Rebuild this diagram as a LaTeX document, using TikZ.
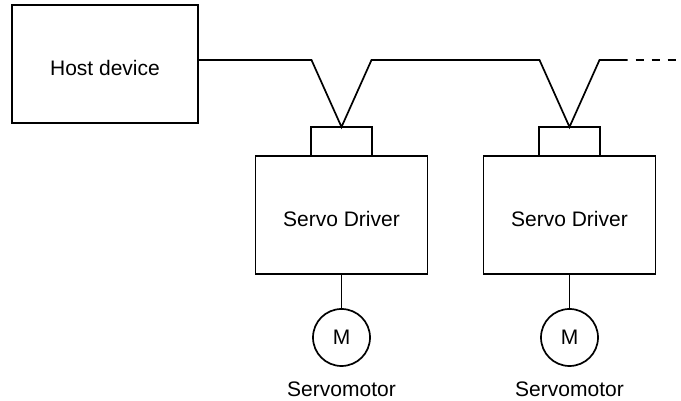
\documentclass[tikz,border=0pt]{standalone}
\usepackage{fontspec}
\setmainfont{Liberation Sans}
\usetikzlibrary{positioning}
\usetikzlibrary{calc}

\tikzset{
    unit/.style={draw, line width=1.7pt, outer sep=0pt, minimum width=172pt, minimum height=118pt, text height=24pt, text depth=0pt, font=\fontsize{21}{25}\selectfont},
    port/.style={draw, line width=1.7pt, outer sep=0pt, inner sep=0pt, minimum width=61pt, minimum height=29pt},
    motor/.style={draw, circle, line width=1.7pt, outer sep=0pt, inner sep=0pt, minimum size=57pt, font=\fontsize{21}{25}\selectfont},
    caption/.style={inner sep=0pt, font=\fontsize{21}{25}\selectfont},
    wire/.style={line width=1.7pt}
}

\begin{document}
\begin{tikzpicture}[x=1pt, y=1pt]
    \useasboundingbox (0,0) rectangle (681,401);

    \node [unit, minimum width=186pt] (host) at (105,337) {Host device};

    \node [port] (p1) at (341.5,259.5) {};
    \node [unit, below=0pt of p1] (d1) {Servo Driver};
    \node [motor, below=35pt of d1] (m1) {M};
    \node [caption, below=16pt of m1] (s1) {Servomotor};

    \node [port, right=167pt of p1] (p2) {};
    \node [unit, below=0pt of p2] (d2) {Servo Driver};
    \node [motor, below=35pt of d2] (m2) {M};
    \node [caption, below=16pt of m2] (s2) {Servomotor};

    \coordinate [above left=67pt and 30pt of p1.north] (v1l);
    \coordinate [above right=67pt and 30pt of p1.north] (v1r);
    \coordinate [above left=67pt and 30pt of p2.north] (v2l);
    \coordinate [above right=67pt and 30pt of p2.north] (v2r);
    \coordinate [right=28pt of v2r] (busend);
    \coordinate [right=48pt of busend] (dashend);

    \draw [wire] (host.east |- v1l) -- (v1l) -- (p1.north) -- (v1r) -- (v2l) -- (p2.north) -- (v2r) -- (busend);
    \draw [wire, dash pattern=on 8pt off 8pt, dash phase=8pt] (busend) -- (dashend);

    \draw [wire] (d1.south) -- (m1.north);
    \draw [wire] (d2.south) -- (m2.north);
\end{tikzpicture}
\end{document}
